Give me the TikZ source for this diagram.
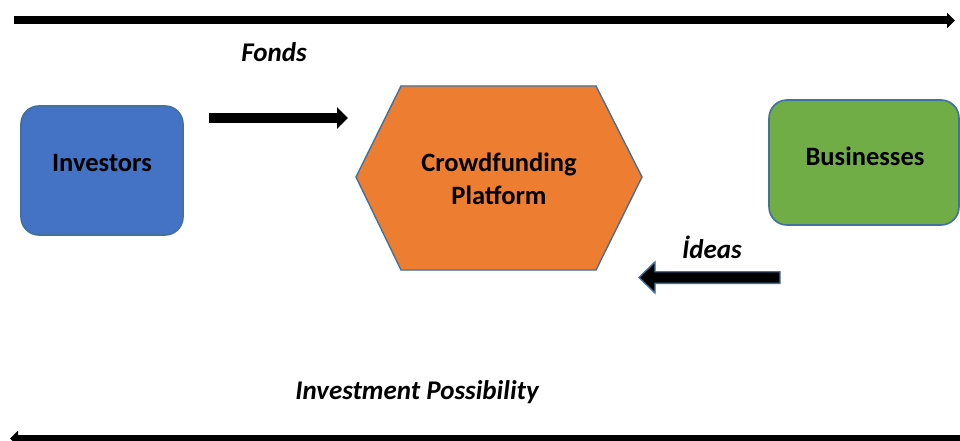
\documentclass[tikz,border=0pt]{standalone}
\usepackage{fontspec}
\setmainfont{Carlito}
\usetikzlibrary{arrows.meta}
\definecolor{boxblue}{HTML}{4472C4}
\definecolor{boxorange}{HTML}{ED7D31}
\definecolor{boxgreen}{HTML}{70AD47}
\definecolor{edgeblue}{HTML}{41719C}
\begin{document}
\begin{tikzpicture}[x=1pt,y=-1pt,
  actor/.style={draw=edgeblue,line width=1.6pt,rounded corners=18pt},
  boxlabel/.style={font=\fontsize{26.5}{33}\selectfont\bfseries,align=center,text=black},
  flowlabel/.style={font=\fontsize{27}{32}\selectfont\bfseries\itshape,text=black},
  flowline/.style={line width=8pt,-{Triangle[length=8pt,width=15pt]}},
  blockarrow/.style={fill=black,draw=edgeblue,line width=1.4pt,line join=miter}]
\useasboundingbox (0,0) rectangle (960,441);

% actors on either side
\filldraw[actor,fill=boxblue] (21,106) rectangle (183,235);
\node[boxlabel] (investors) at (102,163) {Investors};
\filldraw[actor,fill=boxgreen] (769,100) rectangle (959,225);
\node[boxlabel] (businesses) at (865,156) {Businesses};

% the platform in the middle
\filldraw[draw=edgeblue,line width=1.4pt,fill=boxorange]
  (401,86) -- (596,86) -- (642,177) -- (596,270) -- (401,270) -- (356,177) -- cycle;
\node[boxlabel] (platform) at (499,179) {Crowdfunding\\Platform};

% long flows along the top and bottom
\coordinate (topL) at (14,20.5);
\coordinate (topR) at (955,20.5);
\draw[flowline] (topL) -- (topR);
\coordinate (botR) at (962,438.5);
\coordinate (botL) at (10,438.5);
\draw[flowline] (botR) -- (botL);

% funds going into the platform
\coordinate (fondsA) at (209,118);
\coordinate (fondsB) at (348,118);
\draw[line width=10.6pt,-{Triangle[length=11pt,width=21pt]}] (fondsA) -- (fondsB);

% ideas coming back from businesses
\filldraw[blockarrow]
  (780,271.7) -- (655,271.7) -- (655,262) -- (639,277.5) -- (655,293)
  -- (655,283.3) -- (780,283.3) -- cycle;

% flow labels
\node[flowlabel] (fonds) at (274,52) {Fonds};
\node[flowlabel] (ideas) at (712,247) {İdeas};
\node[flowlabel] (possibility) at (417,392) {Investment Possibility};
\end{tikzpicture}
\end{document}
